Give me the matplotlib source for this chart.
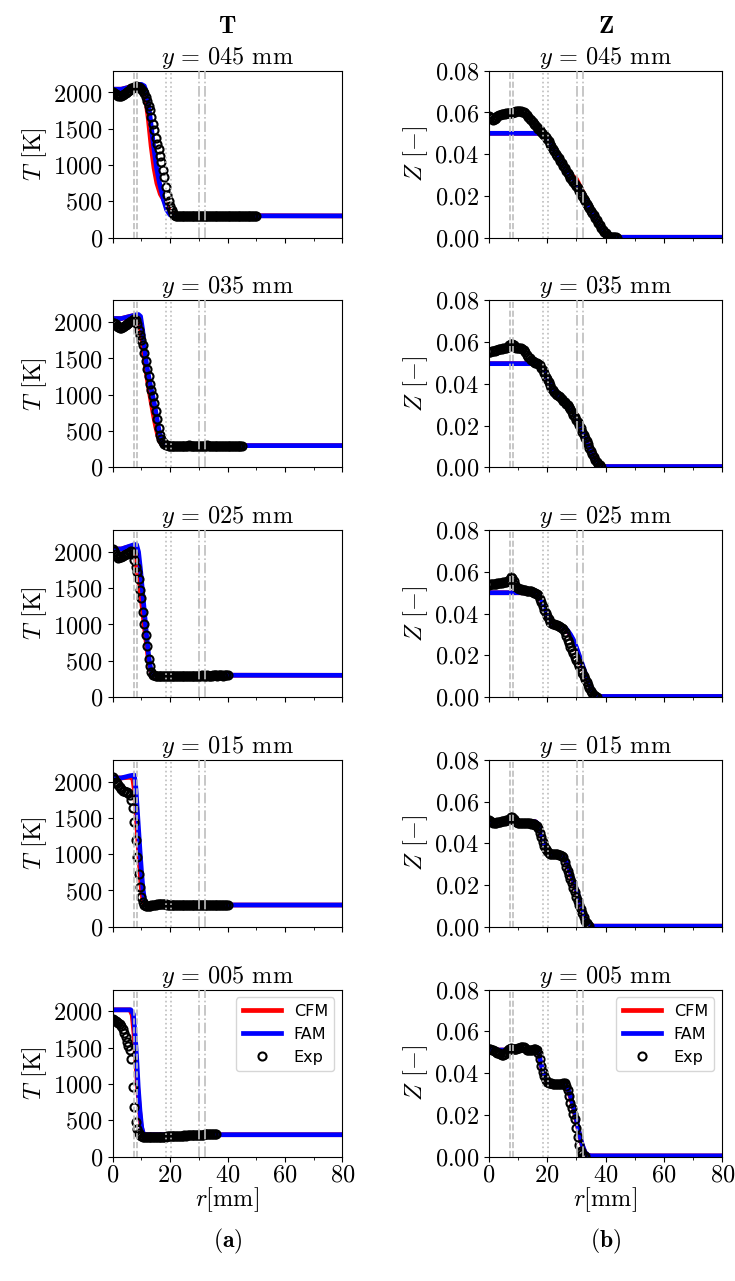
import numpy as np
import matplotlib
matplotlib.use("Agg")
import matplotlib.pyplot as plt
from matplotlib.lines import Line2D
from matplotlib.ticker import MultipleLocator

plt.rcParams.update({
    "font.family": "serif",
    "font.serif": ["cmr10"],
    "mathtext.fontset": "cm",
    "axes.formatter.use_mathtext": True,
    "axes.unicode_minus": False,
    "font.size": 17.5,
})

# heights (mm)
rows = ["045", "035", "025", "015", "005"]

# reference radii of the vertical guide lines [mm]
r_dash = [7.45, 8.3]
r_dot = [18.5, 20.2]
r_dashdot = [30.1, 32.2]

# measurement spacing of the experimental profiles [mm]
exp_step = 0.5

# ---------------- temperature, experiment ----------------
T_exp_045 = [2000, 1995, 1985, 1970, 1958, 1952, 1955, 1965, 1980, 1995, 2010, 2025, 2040, 2055,
             2068, 2078, 2083, 2082, 2078, 2068, 2050, 2025, 1990, 1940, 1880, 1815, 1760, 1660,
             1570, 1480, 1380, 1290, 1220, 1130, 1040, 930, 830, 700, 590, 510, 440, 380, 340,
             315, 302, 296, 294,
             295, 294, 296, 295, 293, 294, 296, 297, 295, 294, 295, 296, 294, 293, 295, 296, 295,
             294, 296, 295, 297, 296, 294, 295, 296, 295, 294, 293, 295, 296, 297, 295, 294, 295,
             296, 295, 294, 296, 295, 294, 295, 296, 297, 296, 295, 294, 295, 296, 295, 294, 296,
             295, 294, 295]
T_exp_035 = [1991, 1985, 1970, 1950, 1935, 1925, 1922, 1930, 1945, 1960, 1975, 1990, 2005, 2020,
             2030, 2037, 2030, 1980, 1899, 1820, 1750, 1680, 1570, 1460, 1350, 1255, 1150, 1060,
             980, 885, 780, 660, 543, 450, 390, 350, 325, 310, 303,
             301, 300, 299, 300, 301, 300, 299, 298, 300, 301, 300, 299, 300, 301, 302, 300, 299,
             300, 301, 300, 299, 300, 301, 300, 299, 300, 301, 302, 300, 299, 300, 301, 300, 299,
             300, 301, 300, 299, 300, 301, 300, 299, 300, 301, 300, 299, 300, 301, 300, 299, 300,
             301]
T_exp_025 = [2037, 2010, 1975, 1945, 1922, 1925, 1935, 1945, 1955, 1965, 1970, 1985, 2000, 2012,
             1970, 1890, 1790, 1720, 1630, 1480, 1360, 1175, 1005, 850, 700, 530, 430, 345, 310,
             298, 293, 292, 292,
             292, 293, 294, 293, 292, 294, 295, 294, 293, 294, 295, 296, 295, 294, 295, 296, 295,
             294, 295, 296, 297, 296, 295, 296, 297, 296, 295, 296, 297, 298, 297, 296, 297, 298,
             297, 296, 297, 298, 299, 298, 297, 298, 299, 298, 297, 298, 299, 298]
T_exp_015 = [2060, 2030, 2000, 1975, 1950, 1920, 1895, 1876, 1865, 1858, 1853, 1840, 1810, 1740,
             1640, 1440, 1200, 960, 726, 543, 405, 335, 305, 292, 288, 290, 292,
             295, 298, 302, 306, 310, 314, 318, 320, 318, 314, 308, 304, 302, 300, 299, 300, 301,
             300, 299, 300, 301, 300, 299, 300, 301, 302, 301, 300, 301, 302, 301, 300, 301, 302,
             303, 302, 301, 302, 303, 302, 301, 302, 303, 302, 301, 302, 303, 304, 303, 302, 303,
             304, 303, 302]
T_exp_005 = [1894, 1880, 1865, 1850, 1840, 1828, 1800, 1750, 1700, 1640, 1580, 1520, 1460, 1340,
             960, 680, 480, 380, 330, 295, 278,
             272, 270, 269, 268, 268, 267, 266, 266, 267, 267, 268, 269, 270, 271, 273, 274, 275,
             277, 278, 279, 281, 280, 282, 284, 283, 285, 287, 286, 288, 290, 289, 291, 293, 292,
             294, 296, 295, 297, 299, 298, 300, 302, 301, 303, 305, 304, 306, 308, 307, 309, 311,
             310]

# ---------------- mixture fraction, experiment ----------------
Z_exp_045 = [.0585, .0580, .0572, .0566, .0568, .0575, .0582, .0587, .0590, .0592, .0593, .0594,
             .0595, .0596, .0596, .0597, .0598, .0600, .0603, .0605, .0606, .0606, .0605, .0604,
             .0602, .0597, .0588, .0580, .0570, .0562, .0553, .0545, .0538, .0530, .0523, .0515,
             .0506, .0497, .0490, .0483, .0474, .0462, .0450, .0438, .0425, .0413, .0402, .0391,
             .0380, .0368, .0357, .0345, .0333, .0320, .0309, .0298, .0288, .0278, .0268, .0258,
             .0248, .0236, .0223, .0211, .0198, .0186, .0174, .0163, .0152, .0141, .0130, .0120,
             .0108, .0096, .0084, .0072, .0060, .0048, .0038, .0029, .0021, .0014, .0009, .0005,
             .0003, .0002, .0001, .0001, .0000]
Z_exp_035 = [.0553, .0555, .0557, .0558, .0560, .0562, .0563, .0565, .0567, .0568, .0570, .0572,
             .0574, .0578, .0584, .0591, .0593, .0585, .0578, .0574, .0573, .0572, .0571, .0568,
             .0562, .0552, .0540, .0530, .0522, .0515, .0509, .0505, .0502, .0499, .0495, .0490,
             .0478, .0465, .0450, .0435, .0422, .0410, .0396, .0382, .0370, .0361, .0354, .0347,
             .0341, .0335, .0328, .0320, .0313, .0306, .0299, .0290, .0278, .0264, .0252, .0240,
             .0228, .0217, .0203, .0187, .0170, .0156, .0141, .0126, .0110, .0095, .0080, .0065,
             .0050, .0037, .0026, .0017, .0010, .0004]
Z_exp_025 = [.0537, .0540, .0542, .0543, .0543, .0544, .0545, .0546, .0547, .0548, .0549, .0550,
             .0551, .0554, .0563, .0573, .0572, .0555, .0536, .0527, .0522, .0519, .0517, .0515,
             .0514, .0512, .0510, .0508, .0507, .0506, .0504, .0501, .0497, .0493, .0487, .0472,
             .0455, .0437, .0418, .0402, .0388, .0374, .0362, .0356, .0351, .0348, .0346, .0343,
             .0339, .0335, .0330, .0324, .0312, .0293, .0274, .0257, .0242, .0226, .0210, .0194,
             .0179, .0164, .0148, .0132, .0117, .0102, .0086, .0070, .0056, .0042, .0030, .0019,
             .0011, .0005, .0001]
Z_exp_015 = [.0512, .0508, .0503, .0499, .0498, .0499, .0501, .0503, .0504, .0505, .0506, .0508,
             .0510, .0513, .0518, .0526, .0528, .0516, .0507, .0502, .0499, .0498, .0497, .0497,
             .0497, .0496, .0496, .0495, .0495, .0494, .0493, .0492, .0489, .0484, .0472, .0450,
             .0428, .0405, .0386, .0371, .0361, .0355, .0351, .0349, .0348, .0348, .0347, .0347,
             .0346, .0344, .0340, .0332, .0312, .0288, .0267, .0248, .0228, .0208, .0186, .0165,
             .0145, .0124, .0104, .0084, .0065, .0047, .0030, .0017, .0008, .0002]
Z_exp_005 = [.0517, .0514, .0511, .0508, .0505, .0502, .0498, .0494, .0490, .0487, .0485, .0490,
             .0500, .0510, .0516, .0518, .0517, .0516, .0516, .0517, .0518, .0520, .0523, .0525,
             .0524, .0518, .0512, .0509, .0508, .0509, .0511, .0513, .0513, .0510, .0495, .0465,
             .0432, .0405, .0384, .0366, .0357, .0353, .0351, .0350, .0349, .0348, .0347, .0346,
             .0346, .0346, .0348, .0351, .0352, .0340, .0318, .0290, .0256, .0230, .0205, .0178,
             .0135, .0093, .0055, .0025, .0010, .0004, .0001]

# ---------------- temperature, models ----------------
rT_fam_045 = [0, 3, 6, 8, 9, 10, 11, 11.8, 12.2, 13, 14.4, 15.3, 16.3, 17.7, 18.8, 20, 21, 80]
T_fam_045 = [2045, 2045, 2075, 2100, 2110, 2112, 2090, 2000, 1908, 1677, 1215, 960, 753, 522, 383, 314, 302, 300]
rT_cfm_045 = [0, 3, 6, 8, 9, 10, 10.8, 11.6, 12.4, 13.4, 14.4, 15.4, 16.6, 17.8, 19.0, 20.2, 21.5, 80]
T_cfm_045 = [2045, 2045, 2075, 2095, 2100, 2085, 2010, 1880, 1640, 1260, 960, 750, 600, 520, 430, 340, 305, 300]

rT_fam_035 = [0, 3, 6, 8, 9, 9.7, 10.4, 11.1, 11.8, 12.5, 13.2, 13.9, 14.6, 15.3, 16, 16.7, 17.5, 18.5, 20, 80]
T_fam_035 = [2050, 2050, 2080, 2100, 2105, 2080, 1900, 1650, 1420, 1260, 1120, 1000, 860, 700, 540, 420, 340, 305, 300, 300]
rT_cfm_035 = [0, 3, 6, 8, 9, 9.6, 10.2, 11, 11.8, 12.6, 13.4, 14.2, 15, 15.8, 16.6, 17.5, 18.5, 80]
T_cfm_035 = [2050, 2050, 2080, 2095, 2070, 1950, 1750, 1500, 1280, 1080, 900, 720, 560, 430, 345, 310, 300, 300]

rT_fam_025 = [0, 3, 6, 7.5, 8.3, 9, 9.7, 10.4, 11.1, 11.8, 12.5, 13.2, 14, 15, 80]
T_fam_025 = [2040, 2040, 2080, 2100, 2100, 2000, 1750, 1450, 1150, 850, 580, 400, 320, 302, 300]
rT_cfm_025 = [0, 3, 6, 7, 7.6, 8.3, 9, 9.7, 10.4, 11.1, 11.8, 12.5, 13.2, 14, 15, 80]
T_cfm_025 = [2040, 2040, 2075, 2080, 2000, 1800, 1620, 1430, 1200, 950, 720, 500, 370, 315, 302, 300]

rT_fam_015 = [0, 3, 6, 7.5, 8, 8.5, 9, 9.5, 10, 10.5, 11, 11.5, 12.5, 80]
T_fam_015 = [2050, 2050, 2080, 2090, 1950, 1650, 1350, 1050, 780, 540, 390, 320, 300, 300]
rT_cfm_015 = [0, 3, 6, 7, 7.5, 8, 8.5, 9, 9.5, 10, 10.5, 11, 12, 80]
T_cfm_015 = [2050, 2050, 2060, 2040, 1900, 1650, 1350, 1050, 760, 520, 380, 320, 300, 300]

rT_fam_005 = [0, 6.3, 7.2, 7.8, 8.4, 8.9, 9.5, 10.1, 10.7, 11.8, 80]
T_fam_005 = [2020, 2020, 1960, 1690, 1320, 950, 630, 400, 310, 300, 300]
rT_cfm_005 = [0, 6, 6.8, 7.4, 8, 8.6, 9.2, 9.8, 10.4, 11.2, 80]
T_cfm_005 = [2020, 2020, 1950, 1700, 1350, 1000, 700, 450, 330, 300, 300]

# ---------------- mixture fraction, models ----------------
rZ_045 = [0, 16, 17, 18, 19, 20, 22, 24, 26, 28, 30, 32, 34, 36, 38, 40, 41, 42, 44, 80]
Z_fam_045 = [.0500, .0500, .0500, .0497, .0488, .0474, .0428, .0382, .0338, .0296, .0262, .0215, .0158,
             .0102, .0050, .0012, .0005, .0003, .0002, .0002]
Z_cfm_045 = [.0500, .0500, .0500, .0497, .0488, .0474, .0428, .0384, .0342, .0302, .0282, .0226, .0165,
             .0105, .0052, .0015, .0007, .0003, .0002, .0002]

rZ_035 = [0, 16, 17, 18, 19, 20, 22, 24, 26, 28, 30, 31, 32, 34, 36, 38, 39, 40, 80]
Z_fam_035 = [.0497, .0497, .0495, .0485, .0462, .0430, .0370, .0340, .0315, .0285, .0240, .0210, .0178,
             .0108, .0045, .0010, .0005, .0004, .0004]
Z_cfm_035 = [.0497, .0497, .0495, .0485, .0462, .0430, .0372, .0342, .0318, .0290, .0252, .0222, .0186,
             .0112, .0048, .0011, .0005, .0004, .0004]

rZ_025 = [0, 16, 17, 18, 19, 20, 21, 22, 23, 25, 26, 27, 28, 29, 30, 31, 32, 33, 34, 35, 36, 37, 38, 80]
Z_fam_025 = [.0500, .0500, .0496, .0470, .0430, .0395, .0368, .0355, .0350, .0340, .0335, .0320, .0300,
             .0275, .0240, .0200, .0160, .0118, .0078, .0042, .0016, .0005, .0003, .0003]
Z_cfm_025 = [.0500, .0500, .0495, .0468, .0428, .0393, .0367, .0354, .0349, .0339, .0333, .0316, .0294,
             .0268, .0232, .0192, .0152, .0112, .0074, .0040, .0015, .0005, .0003, .0003]

rZ_015 = [0, 16, 17, 17.5, 18, 18.5, 19, 20, 21, 23, 25, 26, 27, 28, 29, 30, 31, 32, 33, 34, 35, 36, 80]
Z_fam_015 = [.0503, .0503, .0492, .0470, .0445, .0420, .0395, .0365, .0352, .0348, .0344, .0330, .0300,
             .0262, .0222, .0180, .0135, .0090, .0050, .0020, .0006, .0003, .0003]
Z_cfm_015 = [.0503, .0503, .0490, .0467, .0442, .0417, .0393, .0363, .0351, .0347, .0342, .0326, .0294,
             .0255, .0214, .0172, .0128, .0085, .0047, .0019, .0006, .0003, .0003]

rZ_005 = [0, 16.5, 17, 17.5, 18, 18.5, 19, 20, 22, 24, 26, 27, 28, 29, 30, 31, 32, 33, 34, 35, 80]
Z_fam_005 = [.0510, .0510, .0500, .0475, .0440, .0410, .0388, .0360, .0350, .0347, .0345, .0330, .0290,
             .0240, .0180, .0115, .0058, .0020, .0006, .0003, .0003]
Z_cfm_005 = [.0510, .0510, .0498, .0472, .0437, .0407, .0386, .0358, .0349, .0346, .0343, .0326, .0284,
             .0233, .0172, .0108, .0053, .0018, .0006, .0003, .0003]

T_exp = {"045": T_exp_045, "035": T_exp_035, "025": T_exp_025, "015": T_exp_015, "005": T_exp_005}
Z_exp = {"045": Z_exp_045, "035": Z_exp_035, "025": Z_exp_025, "015": Z_exp_015, "005": Z_exp_005}
T_fam = {"045": (rT_fam_045, T_fam_045), "035": (rT_fam_035, T_fam_035), "025": (rT_fam_025, T_fam_025),
         "015": (rT_fam_015, T_fam_015), "005": (rT_fam_005, T_fam_005)}
T_cfm = {"045": (rT_cfm_045, T_cfm_045), "035": (rT_cfm_035, T_cfm_035), "025": (rT_cfm_025, T_cfm_025),
         "015": (rT_cfm_015, T_cfm_015), "005": (rT_cfm_005, T_cfm_005)}
Z_mod = {"045": (rZ_045, Z_cfm_045, Z_fam_045), "035": (rZ_035, Z_cfm_035, Z_fam_035),
         "025": (rZ_025, Z_cfm_025, Z_fam_025), "015": (rZ_015, Z_cfm_015, Z_fam_015),
         "005": (rZ_005, Z_cfm_005, Z_fam_005)}

W, H = 735, 1281
fig = plt.figure(figsize=(W / 100, H / 100), dpi=100)

top0, pitch, ah = 70.7, 229.7, 167.0
xl, wl = 112.7 / W, 229.6 / W
xr, wr = 488.7 / W, 233.6 / W

lw_mod = 3.4
exp_kw = dict(ls="none", marker="o", ms=5.8, mfc="none", mec="black", mew=1.5, zorder=3)
guide_c = "0.74"
leg_prop = {"family": "DejaVu Sans", "size": 11.5}


def guides(ax):
    for r in r_dash:
        ax.axvline(r, color=guide_c, ls="--", lw=1.2, zorder=4)
    for r in r_dot:
        ax.axvline(r, color=guide_c, ls=":", lw=1.2, zorder=4)
    for r in r_dashdot:
        ax.axvline(r, color=guide_c, ls="-.", lw=1.2, zorder=4)


def style(ax, last):
    ax.set_xlim(0, 80)
    ax.xaxis.set_major_locator(MultipleLocator(20))
    ax.xaxis.set_minor_locator(MultipleLocator(10))
    ax.tick_params(axis="x", labelbottom=last, pad=2)
    if last:
        ax.set_xlabel(r"$r$[mm]", labelpad=-1)


for i, lab in enumerate(rows):
    bottom = 1 - (top0 + i * pitch + ah) / H
    last = i == len(rows) - 1
    title = r"$y\,=\,%s$ mm" % lab

    # temperature
    ax = fig.add_axes([xl, bottom, wl, ah / H])
    vals = np.array(T_exp[lab])
    r = exp_step * np.arange(len(vals))
    ax.plot(*T_cfm[lab], color="red", lw=lw_mod, zorder=2)
    ax.plot(*T_fam[lab], color="blue", lw=lw_mod, zorder=2)
    ax.plot(r, vals, **exp_kw)
    guides(ax)
    style(ax, last)
    ax.set_ylim(0, 2300)
    ax.set_yticks([0, 500, 1000, 1500, 2000])
    ax.set_ylabel(r"$T$ [K]", labelpad=3)
    ax.set_title(title, fontsize=17.5, pad=5)
    if last:
        h = [Line2D([], [], color="red", lw=lw_mod), Line2D([], [], color="blue", lw=lw_mod),
             Line2D([], [], **{k: v for k, v in exp_kw.items() if k != "zorder"})]
        ax.legend(h, ["CFM", "FAM", "Exp"], loc="upper right", prop=leg_prop, handlelength=2.4)

    # mixture fraction
    ax = fig.add_axes([xr, bottom, wr, ah / H])
    vals = np.array(Z_exp[lab])
    r = exp_step * np.arange(len(vals))
    rz, zc, zf = Z_mod[lab]
    ax.plot(rz, zc, color="red", lw=lw_mod, zorder=2)
    ax.plot(rz, zf, color="blue", lw=lw_mod, zorder=2)
    ax.plot(r, vals, **exp_kw)
    guides(ax)
    style(ax, last)
    ax.set_ylim(0, 0.08)
    ax.set_yticks([0, 0.02, 0.04, 0.06, 0.08])
    ax.set_ylabel(r"$Z$ [$-$]", labelpad=3)
    ax.set_title(title, fontsize=17.5, pad=5)
    if last:
        ax.legend(h, ["CFM", "FAM", "Exp"], loc="upper right", prop=leg_prop, handlelength=2.4)

# column headers and panel letters
fig.text(xl + wl / 2, 1 - 27 / H, r"$\mathbf{T}$", ha="center", va="center", fontsize=18)
fig.text(xr + wr / 2, 1 - 27 / H, r"$\mathbf{Z}$", ha="center", va="center", fontsize=18)
fig.text(xl + wl / 2, 1 - 1241 / H, r"($\mathbf{a}$)", ha="center", va="center", fontsize=17)
fig.text(xr + wr / 2, 1 - 1241 / H, r"($\mathbf{b}$)", ha="center", va="center", fontsize=17)

fig.savefig("out.png", dpi=100)
